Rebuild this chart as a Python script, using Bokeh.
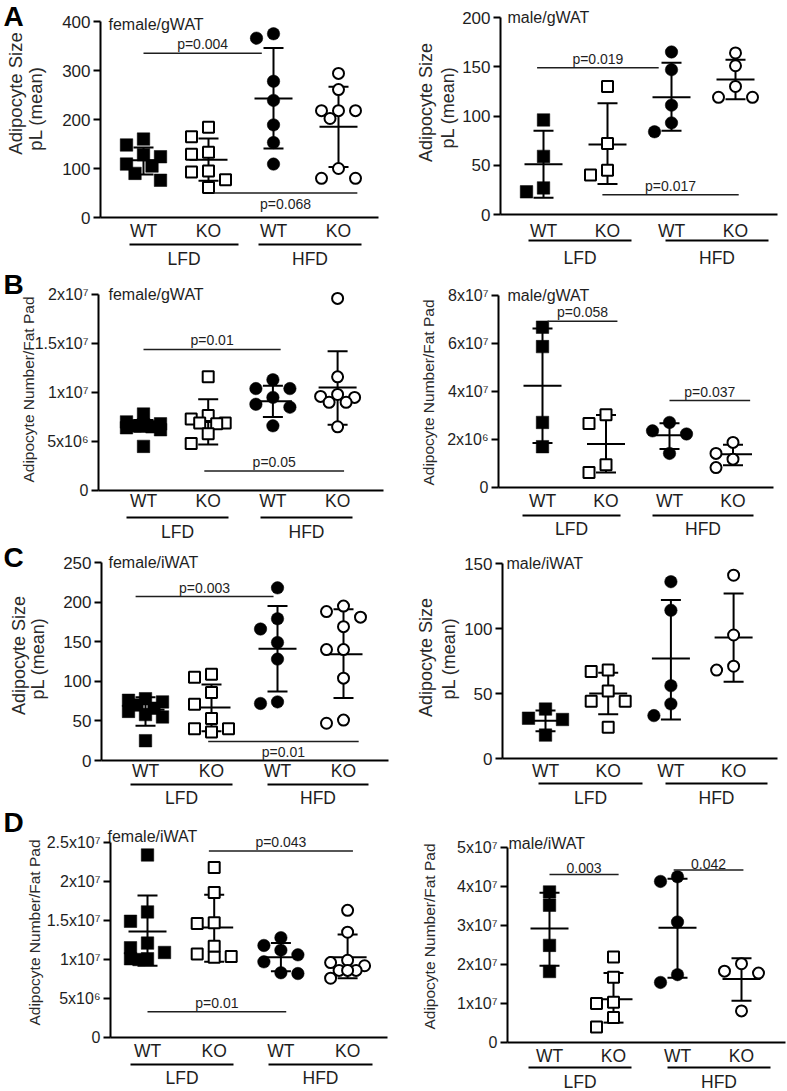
import numpy as np
from bokeh.plotting import figure
from bokeh.models import FixedTicker, Label, Range1d
from bokeh.layouts import column, row
from bokeh.embed import file_html
from bokeh.resources import INLINE
from bokeh.core.properties import value

FONT = "Liberation Sans"
INK = "#1e1e1e"

GENOTYPES = ["WT", "KO", "WT", "KO"]
DIETS = ["LFD", "HFD"]
SIZE_TITLE = ["Adipocyte Size", "pL (mean)"]
NUMBER_TITLE = ["Adipocyte Number/Fat Pad"]
LETTERS = ["A", "B", "C", "D"]

# ---------------- A : gWAT adipocyte size ----------------
fg_size_wt_lfd = [160, 148, 128, 124, 109, 105, 90, 76]
fg_size_ko_lfd = [184, 165, 133, 129, 95, 93, 77, 61]
fg_size_wt_hfd = [375, 366, 278, 239, 189, 153, 109]
fg_size_ko_hfd = [294, 261, 218, 218, 218, 202, 100, 80, 80]
fg_size_mean = [117, 118, 243, 185]
fg_size_low = [88, 75, 141, 103]
fg_size_high = [143, 161, 346, 267]
fg_size_ticks = [0, 100, 200, 300, 400]
fg_size_labels = ["0", "100", "200", "300", "400"]
fg_size_comp = [("p=0.004", 1.0, 2.82, 335, "above"), ("p=0.068", 2.08, 4.29, 50, "below")]

mg_size_wt_lfd = [96, 59, 27, 23]
mg_size_ko_lfd = [130, 72, 45, 40]
mg_size_wt_hfd = [165, 147, 111, 93, 84]
mg_size_ko_hfd = [164, 151, 130, 119, 119]
mg_size_mean = [51, 71, 119, 137]
mg_size_low = [17, 31, 85, 117]
mg_size_high = [85, 113, 154, 157]
mg_size_ticks = [0, 50, 100, 150, 200]
mg_size_labels = ["0", "50", "100", "150", "200"]
mg_size_comp = [("p=0.019", 0.9, 2.8, 149, "above"), ("p=0.017", 1.92, 4.05, 20, "above")]

# ---------------- B : gWAT adipocyte number ----------------
fg_num_wt_lfd = [7.8e6, 7.0e6, 6.8e6, 6.7e6, 6.6e6, 6.5e6, 6.4e6, 6.2e6, 4.5e6]
fg_num_ko_lfd = [11.6e6, 7.65e6, 7.3e6, 6.9e6, 6.9e6, 6.8e6, 5.8e6, 4.8e6]
fg_num_wt_hfd = [11.3e6, 10.4e6, 10.4e6, 9.5e6, 8.8e6, 8.5e6, 6.6e6]
fg_num_ko_hfd = [19.6e6, 11.6e6, 9.8e6, 9.6e6, 9.5e6, 9.0e6, 9.0e6, 6.5e6]
fg_num_mean = [6.6e6, 7.0e6, 9.1e6, 10.5e6]
fg_num_low = [6.0e6, 4.7e6, 7.5e6, 6.7e6]
fg_num_high = [7.2e6, 9.3e6, 10.7e6, 14.2e6]
fg_num_ticks = [0, 5000000, 10000000, 15000000, 20000000]
fg_num_labels = ["0", "5x10\u2076", "1x10\u2077", "1.5x10\u2077", "2x10\u2077"]
fg_num_comp = [("p=0.01", 1.0, 3.12, 14.4e6, "above"), ("p=0.05", 1.94, 4.1, 2.0e6, "above")]

mg_num_wt_lfd = [6.68e7, 5.87e7, 2.71e7, 1.70e7]
mg_num_ko_lfd = [3.03e7, 2.67e7, 0.95e7, 0.63e7]
mg_num_wt_hfd = [2.71e7, 2.36e7, 2.23e7, 1.42e7]
mg_num_ko_hfd = [1.88e7, 1.42e7, 1.18e7, 0.83e7]
mg_num_mean = [4.24e7, 1.81e7, 2.18e7, 1.39e7]
mg_num_low = [1.85e7, 0.63e7, 1.60e7, 0.93e7]
mg_num_high = [6.63e7, 3.02e7, 2.68e7, 1.78e7]
mg_num_ticks = [0, 20000000, 40000000, 60000000, 80000000]
mg_num_labels = ["0", "2x10\u2076", "4x10\u2077", "6x10\u2077", "8x10\u2077"]
mg_num_comp = [("p=0.058", 1.08, 2.18, 6.93e7, "above"), ("p=0.037", 3.0, 4.27, 3.62e7, "above")]

# ---------------- C : iWAT adipocyte size ----------------
fi_size_wt_lfd = [78, 76, 74, 70, 66, 62, 58, 55, 25]
fi_size_ko_lfd = [109, 105, 86, 71, 53, 40, 40, 36]
fi_size_wt_hfd = [218, 179, 166, 149, 128, 74, 72]
fi_size_ko_hfd = [195, 188, 181, 169, 140, 140, 104, 51, 47]
fi_size_mean = [64, 67, 141, 134]
fi_size_low = [44, 37, 87, 79]
fi_size_high = [80, 96, 195, 191]
fi_size_ticks = [0, 50, 100, 150, 200, 250]
fi_size_labels = ["0", "50", "100", "150", "200", "250"]
fi_size_comp = [("p=0.003", 0.85, 2.94, 207, "above"), ("p=0.01", 1.95, 4.23, 24, "below")]

mi_size_wt_lfd = [38, 31, 30, 18]
mi_size_ko_lfd = [68, 67, 52, 44, 44, 24]
mi_size_wt_hfd = [136, 114, 56, 42, 33]
mi_size_ko_hfd = [141, 95, 71, 68]
mi_size_mean = [29, 50, 77, 93]
mi_size_low = [21, 34, 30, 59]
mi_size_high = [37, 66, 122, 127]
mi_size_ticks = [0, 50, 100, 150]
mi_size_labels = ["0", "50", "100", "150"]
mi_size_comp = []

# ---------------- D : iWAT adipocyte number ----------------
fi_num_wt_lfd = [23.4e6, 16.1e6, 14.9e6, 12.1e6, 11.5e6, 10.9e6, 10.1e6, 10.1e6, 10.0e6]
fi_num_ko_lfd = [21.8e6, 18.6e6, 14.7e6, 14.6e6, 11.7e6, 10.7e6, 10.4e6, 10.3e6]
fi_num_wt_hfd = [12.8e6, 11.8e6, 11.2e6, 10.6e6, 9.7e6, 8.3e6, 8.2e6]
fi_num_ko_hfd = [16.3e6, 13.5e6, 9.9e6, 9.6e6, 9.2e6, 8.6e6, 8.6e6, 8.6e6, 7.6e6]
fi_num_mean = [13.6e6, 14.1e6, 10.3e6, 10.3e6]
fi_num_low = [9.2e6, 9.7e6, 8.5e6, 7.6e6]
fi_num_high = [18.2e6, 18.3e6, 12.1e6, 13.2e6]
fi_num_ticks = [0, 5000000, 10000000, 15000000, 20000000, 25000000]
fi_num_labels = ["0", "5x10\u2076", "1x10\u2077", "1.5x10\u2077", "2x10\u2077", "2.5x10\u2077"]
fi_num_comp = [("p=0.043", 1.92, 4.08, 23.9e6, "above"), ("p=0.01", 1.0, 3.08, 3.3e6, "above")]

mi_num_wt_lfd = [3.86e7, 3.52e7, 2.49e7, 1.82e7]
mi_num_ko_lfd = [2.19e7, 1.67e7, 1.03e7, 1.00e7, 0.64e7, 0.40e7]
mi_num_wt_hfd = [4.25e7, 4.13e7, 3.09e7, 1.74e7, 1.54e7]
mi_num_ko_hfd = [2.02e7, 1.83e7, 1.78e7, 0.81e7]
mi_num_mean = [2.92e7, 1.11e7, 2.94e7, 1.63e7]
mi_num_low = [1.97e7, 0.51e7, 1.66e7, 1.07e7]
mi_num_high = [3.84e7, 1.78e7, 4.20e7, 2.16e7]
mi_num_ticks = [0, 10000000, 20000000, 30000000, 40000000, 50000000]
mi_num_labels = ["0", "1x10\u2077", "2x10\u2077", "3x10\u2077", "4x10\u2077", "5x10\u2077"]
mi_num_comp = [("0.003", 1.0, 2.08, 4.31e7, "above"), ("0.042", 2.94, 4.03, 4.42e7, "above")]


def swarm(vals, pxv, dmin=12.0):
    cands = [0, -17, 17, -8.5, 8.5]
    order = np.argsort(-np.asarray(vals, dtype=float), kind="stable")
    placed = []
    offs = [0.0] * len(vals)
    for idx in order:
        ypx = vals[idx] * pxv
        best, bestd, bestc = None, -1.0, 0
        for c in cands:
            d = min([np.hypot(c - o, ypx - y) for o, y in placed], default=1e9)
            if d >= dmin:
                best = c
                break
            if d > bestd:
                bestd, bestc = d, c
        if best is None:
            best = bestc
        offs[idx] = best
        placed.append((best, ypx))
    return offs


def make_panel(groups, means, lows, highs, ticks, tick_labels, comps, sample, titles, L):
    cx0, cy0, W, H = L["canvas"]
    c1, sp, y0, ytop = L["c1"], L["sp"], L["y0"], L["ytop"]
    T = ticks[-1]

    def X(rx):
        return 1 + (rx - c1) / sp

    def Y(ry):
        return (y0 - ry) * T / (y0 - ytop)

    pxv = (y0 - ytop) / T
    p = figure(width=W, height=H,
               x_range=Range1d(X(cx0), X(cx0 + W)),
               y_range=Range1d(Y(cy0 + H), Y(cy0)),
               x_axis_location=None, toolbar_location=None, output_backend="svg",
               min_border_left=0, min_border_right=0, min_border_top=0, min_border_bottom=0)
    p.outline_line_color = None
    p.grid.grid_line_color = None
    p.background_fill_color = "white"
    p.border_fill_color = "white"

    ax = p.yaxis[0]
    ax.fixed_location = X(L["axis_x"])
    ax.ticker = FixedTicker(ticks=ticks)
    ax.major_label_overrides = {t: s for t, s in zip(ticks, tick_labels)}
    ax.bounds = (0, T)
    ax.axis_line_width = 2
    ax.axis_line_color = "black"
    ax.major_tick_line_width = 2
    ax.major_tick_line_color = "black"
    ax.major_tick_out = 7
    ax.major_tick_in = 0
    ax.minor_tick_line_color = None
    ax.major_label_text_font = FONT
    ax.major_label_text_font_size = "%gpx" % L["tick_fs"]
    ax.major_label_text_color = INK
    ax.major_label_standoff = 3

    # x axis line
    p.segment(x0=[X(L["axis_x"])], y0=[0], x1=[X(L["xend"])], y1=[0],
              line_width=2, line_color="black")

    cats = np.arange(1, len(groups) + 1, dtype=float)
    hw, cw = 19 / sp, 10 / sp
    kw = dict(line_width=2, line_color="black")
    p.segment(x0=cats, y0=lows, x1=cats, y1=highs, **kw)
    p.segment(x0=cats - hw, y0=means, x1=cats + hw, y1=means, **kw)
    p.segment(x0=cats - cw, y0=lows, x1=cats + cw, y1=lows, **kw)
    p.segment(x0=cats - cw, y0=highs, x1=cats + cw, y1=highs, **kw)

    styles = [("square", "black"), ("square", "white"), ("circle", "black"), ("circle", "white")]
    for i, vals in enumerate(groups):
        offs = swarm(vals, pxv)
        xs = [cats[i] + o / sp for o in offs]
        marker, fill = styles[i]
        if fill == "black":
            p.scatter(xs, vals, marker=marker, size=12.5, fill_color="black",
                      line_color="black", line_width=0.5)
        else:
            p.scatter(xs, vals, marker=marker, size=11, fill_color="white",
                      line_color="black", line_width=2)

    # significance bars
    for text, xa, xb, yv, pos in comps:
        p.segment(x0=[xa], y0=[yv], x1=[xb], y1=[yv], line_width=1.5, line_color=INK)
        ry = y0 - yv * pxv
        if pos == "above":
            ty, base = Y(ry - 1), "bottom"
        else:
            ty, base = Y(ry + 3), "top"
        p.text(x=[(xa + xb) / 2], y=[ty], text=[text], text_font=value(FONT),
               text_font_size=value("14px"), text_align="center",
               text_baseline=base, text_color=INK)

    # sample label
    p.text(x=[X(L["sample"][0])], y=[Y(L["sample"][1])], text=[sample], text_font=value(FONT),
           text_font_size=value("16px"), text_align="left", text_baseline="middle",
           text_color=INK)

    # category labels, underlines, diet labels
    p.text(x=list(cats), y=[Y(L["lab_y"])] * len(cats), text=GENOTYPES, text_font=value(FONT),
           text_font_size=value("17.5px"), text_align="center", text_baseline="middle",
           text_color=INK)
    ul = L["ul"]
    p.segment(x0=[X(a) for a, b in ul], y0=[Y(L["ul_y"])] * 2, x1=[X(b) for a, b in ul],
              y1=[Y(L["ul_y"])] * 2, line_width=2, line_color="black")
    p.text(x=[X((a + b) / 2) for a, b in ul], y=[Y(L["grp_y"])] * 2, text=DIETS,
           text_font=value(FONT), text_font_size=value("17.5px"), text_align="center",
           text_baseline="middle", text_color=INK)

    # y axis title
    for t, (tx, ty) in zip(titles, L["titles"]):
        p.add_layout(Label(x=X(tx), y=Y(ty), text=t, angle=np.pi / 2, text_font=FONT,
                           text_font_size="%gpx" % L["title_fs"], text_align="center",
                           text_baseline="middle", text_color="#2a2a2a"))
    if "letter" in L:
        ch, lx, ly = L["letter"]
        p.add_layout(Label(x=X(lx), y=Y(ly), text=ch, text_font=FONT, text_font_style="bold",
                           text_font_size="28px", text_align="left", text_baseline="middle",
                           text_color="black"))
    return p


A_L = dict(canvas=(0, 0, 392, 268), axis_x=100, xend=378, y0=217, ytop=21, c1=143, sp=65,
           lab_y=230, ul_y=244, ul=((129, 238), (258, 361)), grp_y=258, sample=(108, 24),
           titles=[(15, 93), (35, 108)], title_fs=18.5, tick_fs=17, letter=(LETTERS[0], 3, 16))
A_R = dict(canvas=(392, 0, 395, 268), axis_x=500, xend=777, y0=214, ytop=17, c1=543, sp=64,
           lab_y=230, ul_y=240, ul=((528, 631), (665, 768)), grp_y=257, sample=(507, 17),
           titles=[(425, 102), (447, 107)], title_fs=18, tick_fs=17)
B_L = dict(canvas=(0, 268, 392, 272), axis_x=98, xend=383, y0=490, ytop=294, c1=143, sp=64.7,
           lab_y=500, ul_y=517, ul=((126, 228), (260, 352)), grp_y=531, sample=(108, 294),
           titles=[(28, 389)], title_fs=15.5, tick_fs=16, letter=(LETTERS[1], 3, 284))
B_R = dict(canvas=(392, 268, 395, 272), axis_x=498, xend=773, y0=487, ytop=295, c1=542, sp=63.5,
           lab_y=500, ul_y=515, ul=((522, 620), (652, 753)), grp_y=528, sample=(507, 295),
           titles=[(428, 392)], title_fs=15.5, tick_fs=16)
C_L = dict(canvas=(0, 540, 392, 266), axis_x=101, xend=388, y0=760, ytop=562, c1=145, sp=66,
           lab_y=770, ul_y=784, ul=((130, 232), (267, 368)), grp_y=797, sample=(108, 562),
           titles=[(18, 655), (37, 658)], title_fs=18, tick_fs=17, letter=(LETTERS[2], 3, 557))
C_R = dict(canvas=(392, 540, 395, 266), axis_x=502, xend=777, y0=758, ytop=563, c1=545, sp=62.7,
           lab_y=770, ul_y=783, ul=((538, 642), (665, 767)), grp_y=797, sample=(506, 563),
           titles=[(425, 657), (448, 658)], title_fs=18, tick_fs=17)
D_L = dict(canvas=(0, 806, 392, 284), axis_x=110, xend=387, y0=1037, ytop=842, c1=147, sp=66.7,
           lab_y=1050, ul_y=1064, ul=((130, 233), (268, 372)), grp_y=1077, sample=(107, 836),
           titles=[(34, 932)], title_fs=15.5, tick_fs=16, letter=(LETTERS[3], 3, 822))
D_R = dict(canvas=(392, 806, 395, 284), axis_x=507, xend=785, y0=1042, ytop=847, c1=549, sp=64,
           lab_y=1055, ul_y=1067, ul=((528, 631), (667, 770)), grp_y=1081, sample=(508, 843),
           titles=[(429, 936)], title_fs=15.5, tick_fs=16)

pA1 = make_panel([fg_size_wt_lfd, fg_size_ko_lfd, fg_size_wt_hfd, fg_size_ko_hfd],
                 fg_size_mean, fg_size_low, fg_size_high, fg_size_ticks, fg_size_labels,
                 fg_size_comp, "female/gWAT", SIZE_TITLE, A_L)
pA2 = make_panel([mg_size_wt_lfd, mg_size_ko_lfd, mg_size_wt_hfd, mg_size_ko_hfd],
                 mg_size_mean, mg_size_low, mg_size_high, mg_size_ticks, mg_size_labels,
                 mg_size_comp, "male/gWAT", SIZE_TITLE, A_R)
pB1 = make_panel([fg_num_wt_lfd, fg_num_ko_lfd, fg_num_wt_hfd, fg_num_ko_hfd],
                 fg_num_mean, fg_num_low, fg_num_high, fg_num_ticks, fg_num_labels,
                 fg_num_comp, "female/gWAT", NUMBER_TITLE, B_L)
pB2 = make_panel([mg_num_wt_lfd, mg_num_ko_lfd, mg_num_wt_hfd, mg_num_ko_hfd],
                 mg_num_mean, mg_num_low, mg_num_high, mg_num_ticks, mg_num_labels,
                 mg_num_comp, "male/gWAT", NUMBER_TITLE, B_R)
pC1 = make_panel([fi_size_wt_lfd, fi_size_ko_lfd, fi_size_wt_hfd, fi_size_ko_hfd],
                 fi_size_mean, fi_size_low, fi_size_high, fi_size_ticks, fi_size_labels,
                 fi_size_comp, "female/iWAT", SIZE_TITLE, C_L)
pC2 = make_panel([mi_size_wt_lfd, mi_size_ko_lfd, mi_size_wt_hfd, mi_size_ko_hfd],
                 mi_size_mean, mi_size_low, mi_size_high, mi_size_ticks, mi_size_labels,
                 mi_size_comp, "male/iWAT", SIZE_TITLE, C_R)
pD1 = make_panel([fi_num_wt_lfd, fi_num_ko_lfd, fi_num_wt_hfd, fi_num_ko_hfd],
                 fi_num_mean, fi_num_low, fi_num_high, fi_num_ticks, fi_num_labels,
                 fi_num_comp, "female/iWAT", NUMBER_TITLE, D_L)
pD2 = make_panel([mi_num_wt_lfd, mi_num_ko_lfd, mi_num_wt_hfd, mi_num_ko_hfd],
                 mi_num_mean, mi_num_low, mi_num_high, mi_num_ticks, mi_num_labels,
                 mi_num_comp, "male/iWAT", NUMBER_TITLE, D_R)

layout = column(row(pA1, pA2), row(pB1, pB2), row(pC1, pC2), row(pD1, pD2))
open("out.html", "w").write(file_html(layout, INLINE))
